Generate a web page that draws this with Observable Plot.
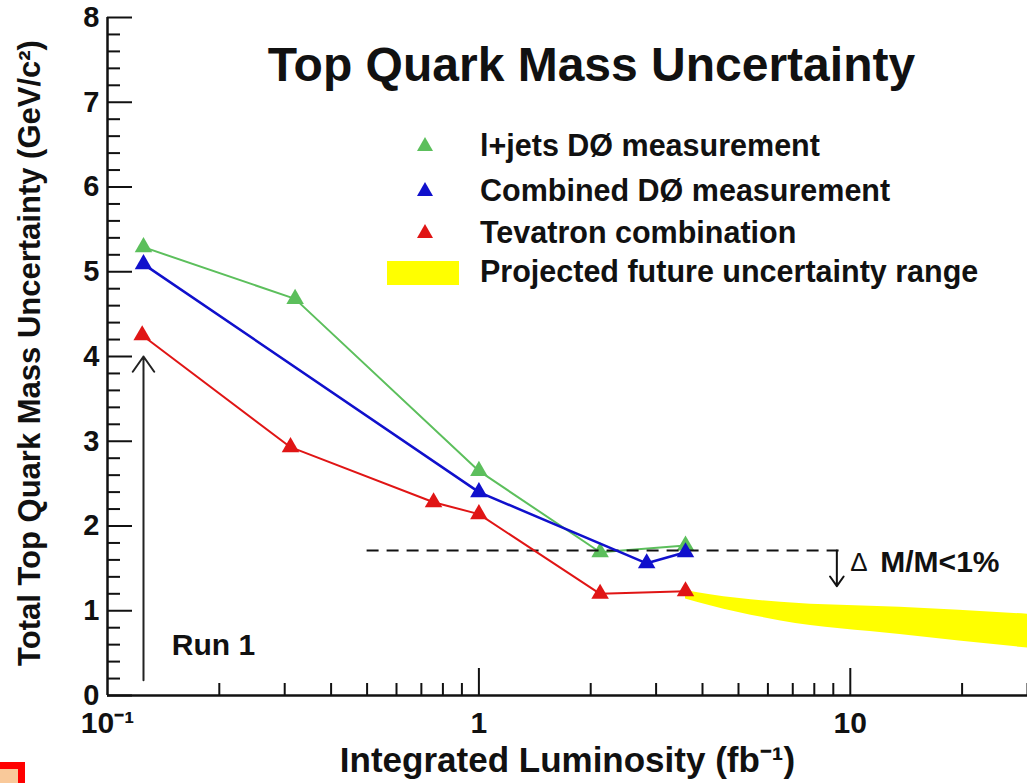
<!DOCTYPE html>
<html>
<head>
<meta charset="utf-8">
<script src="https://cdn.jsdelivr.net/npm/d3@7"></script>
<script src="https://cdn.jsdelivr.net/npm/@observablehq/plot@0.6"></script>
<style>
  html, body { margin: 0; padding: 0; background: #fff; overflow: hidden; }
  #wrap { position: relative; width: 1027px; height: 783px; font-family: "Liberation Sans", Arial, Helvetica, sans-serif; }
  #chart svg { display: block; }
  .leg { position: absolute; font-weight: bold; font-size: 30.5px; line-height: 30px; white-space: nowrap; color: #111; }
  .tri { position: absolute; }
  .swatch { position: absolute; background: #ffff00; }
  #ylabel { position: absolute; left: 29px; top: 353px; transform: translate(-50%, -50%) rotate(-90deg); white-space: nowrap; font-weight: bold; font-size: 31px; line-height: 31px; color: #111; }
  #redbox { position: absolute; left: -10px; top: 762px; width: 35px; height: 40px; box-sizing: border-box; border: 7px solid #f00; background: #f9c99a; }
</style>
</head>
<body>
<div id="wrap">
  <div id="chart"></div>
  <div id="legend"></div>
  <div id="ylabel"></div>
  <div id="redbox"></div>
</div>
<script>
// ---------- data ----------
const lumiLjets = [0.125, 0.32, 1.0, 2.12, 3.6];
const uncLjets  = [5.29, 4.68, 2.65, 1.69, 1.77];

const lumiComb = [0.125, 1.0, 2.83, 3.6];
const uncComb  = [5.09, 2.40, 1.56, 1.69];

const lumiTev = [0.124, 0.311, 0.755, 1.0, 2.12, 3.6];
const uncTev  = [4.25, 2.93, 2.28, 2.14, 1.20, 1.23];

const bandLumi   = [3.6, 4.2, 6.5, 13.6, 30];
const bandTop    = [1.24, 1.19, 1.10, 1.04, 0.96];
const bandBottom = [1.14, 1.06, 0.88, 0.72, 0.56];

const yMajor = [0, 1, 2, 3, 4, 5, 6, 7, 8];
const xMajorLabels = [0.1, 1, 10];
const xTickText = ["10⁻¹", "1", "10"];

const legendLabels = ["l+jets DØ measurement", "Combined DØ measurement", "Tevatron combination", "Projected future uncertainty range"];
const legendColors = ["#5cbf5c", "#1010cc", "#e01515", "#ffff00"];

const titleText = "Top Quark Mass Uncertainty";
const xLabel = "Integrated Luminosity (fb⁻¹)";
const yLabel = "Total Top Quark Mass Uncertainty (GeV/c²)";

const goalUnc = 1.71;          // ΔM/M < 1% line
const goalFrom = 0.5, goalTo = 9.4;
const run1Lumi = 0.125, run1From = 0.18, run1To = 4.0;
const goalArrowLumi = 9.2, goalArrowTo = 1.29;

// ---------- layout ----------
const W = 1027, H = 783;
const mT = 17, mB = 88, mL = 107, mR = 0;
const plotW = W - mL - mR, plotH = H - mT - mB;

const rows = (xs, ys) => xs.map((x, i) => ({x, y: ys[i]}));
const ljets = rows(lumiLjets, uncLjets);
const comb = rows(lumiComb, uncComb);
const tev = rows(lumiTev, uncTev);
const band = bandLumi.map((x, i) => ({x, top: bandTop[i], bottom: bandBottom[i]}));

const yMinor = d3.range(0, 8.001, 0.2).map(v => +v.toFixed(1)).filter(v => Math.abs(v - Math.round(v)) > 1e-6);
const xMinor = [0.2,0.3,0.4,0.5,0.6,0.7,0.8,0.9,2,3,4,5,6,7,8,9,20,30];

const C = legendColors;

const chart = Plot.plot({
  width: W, height: H,
  marginTop: mT, marginBottom: mB, marginLeft: mL, marginRight: mR,
  style: {fontFamily: '"Liberation Sans", Arial, Helvetica, sans-serif', fontWeight: "bold", color: "#111", background: "white"},
  x: {type: "log", domain: [0.1, 30], axis: null},
  y: {domain: [0, 8], axis: null},
  marks: [
    // projected band
    Plot.areaY(band, {x: "x", y1: "bottom", y2: "top", fill: C[3], curve: "monotone-x"}),
    // l+jets
    Plot.line(ljets, {x: "x", y: "y", stroke: C[0], strokeWidth: 2}),
    Plot.dot(ljets, {x: "x", y: "y", symbol: "triangle", fill: C[0], r: 6.5}),
    // goal dashed line
    Plot.ruleY([goalUnc], {x1: goalFrom, x2: goalTo, stroke: "#111", strokeWidth: 2, strokeDasharray: "12,8"}),
    // Tevatron
    Plot.line(tev, {x: "x", y: "y", stroke: C[2], strokeWidth: 2}),
    Plot.dot(tev, {x: "x", y: "y", symbol: "triangle", fill: C[2], r: 6.5}),
    // Combined
    Plot.line(comb, {x: "x", y: "y", stroke: C[1], strokeWidth: 2.5}),
    Plot.dot(comb, {x: "x", y: "y", symbol: "triangle", fill: C[1], r: 6.5}),
    // annotations
    Plot.arrow([{x: run1Lumi, y1: run1From, y2: run1To}], {x1: "x", x2: "x", y1: "y1", y2: "y2", stroke: "#222", strokeWidth: 2, headLength: 14, headAngle: 70}),
    Plot.text(["Run 1"], {x: 0.149, y: 0.59, text: d => d, textAnchor: "start", fontSize: 30, fill: "#111"}),
    Plot.arrow([{x: goalArrowLumi, y1: goalUnc, y2: goalArrowTo}], {x1: "x", x2: "x", y1: "y1", y2: "y2", stroke: "#111", strokeWidth: 2, headLength: 12, headAngle: 70}),
    Plot.text(["Δ"], {x: 10, y: 1.57, text: d => d, textAnchor: "start", fontSize: 26, fontWeight: "normal", fill: "#111"}),
    Plot.text(["M/M<1%"], {x: 10, y: 1.57, text: d => d, textAnchor: "start", dx: 30, fontSize: 30, fill: "#111"}),
    // title
    Plot.text([titleText], {frameAnchor: "top", lineAnchor: "middle", text: d => d, dx: 24, dy: 48, fontSize: 48, fill: "#111"}),
    // axes lines
    Plot.ruleX([0.1], {stroke: "#111", strokeWidth: 2.5}),
    Plot.ruleY([0], {stroke: "#111", strokeWidth: 2.5}),
    // y ticks (inside)
    Plot.tickY(yMajor, {y: d => d, insetRight: plotW - 25, stroke: "#111", strokeWidth: 2}),
    Plot.tickY(yMinor, {y: d => d, insetRight: plotW - 13, stroke: "#111", strokeWidth: 2}),
    // x ticks (inside)
    Plot.tickX([1, 10], {x: d => d, insetTop: plotH - 27, stroke: "#111", strokeWidth: 2}),
    Plot.tickX(xMinor, {x: d => d, insetTop: plotH - 12, stroke: "#111", strokeWidth: 2}),
    // tick labels
    Plot.text(yMajor, {y: d => d, text: d => String(d), frameAnchor: "left", textAnchor: "end", lineAnchor: "middle", dx: -8, fontSize: 29, fill: "#111"}),
    Plot.text(xMajorLabels, {x: d => d, text: (d, i) => xTickText[i], frameAnchor: "bottom", lineAnchor: "middle", dy: 28, fontSize: 30, fill: "#111"}),
    // x axis label
    Plot.text([xLabel], {frameAnchor: "bottom", lineAnchor: "middle", text: d => d, dy: 65, fontSize: 35, fill: "#111"})
  ]
});
document.getElementById("chart").appendChild(chart);
document.getElementById("ylabel").textContent = yLabel;

// ---------- legend (HTML overlay) ----------
const legend = document.getElementById("legend");
const rowY = [145, 190, 232, 271];
legendLabels.forEach((lab, i) => {
  if (i < 3) {
    const s = document.createElementNS("http://www.w3.org/2000/svg", "svg");
    s.setAttribute("width", 18); s.setAttribute("height", 16);
    s.setAttribute("class", "tri");
    s.style.left = (425 - 9) + "px"; s.style.top = (rowY[i] - 9) + "px";
    const p = document.createElementNS("http://www.w3.org/2000/svg", "path");
    p.setAttribute("d", "M9,1 L17,15 L1,15 Z");
    p.setAttribute("fill", legendColors[i]);
    s.appendChild(p);
    legend.appendChild(s);
  } else {
    const sw = document.createElement("div");
    sw.className = "swatch";
    sw.style.left = "387px"; sw.style.top = "261px"; sw.style.width = "72px"; sw.style.height = "24px";
    sw.style.background = legendColors[i];
    legend.appendChild(sw);
  }
  const t = document.createElement("div");
  t.className = "leg";
  t.textContent = lab;
  t.style.left = "480px";
  t.style.top = (rowY[i] - 15) + "px";
  legend.appendChild(t);
});
</script>
</body>
</html>
